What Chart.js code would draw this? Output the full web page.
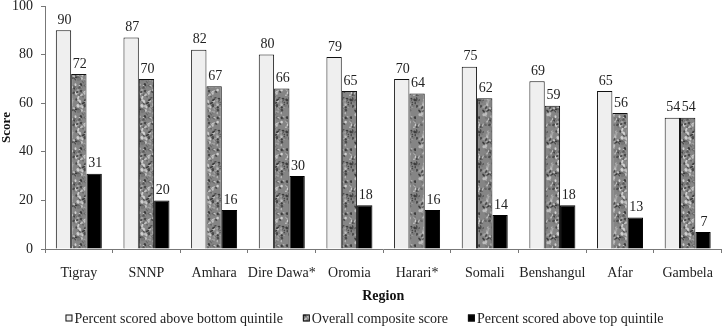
<!DOCTYPE html>
<html>
<head>
<meta charset="utf-8">
<script src="https://cdn.jsdelivr.net/npm/chart.js@4"></script>
<style>
  html, body { margin: 0; padding: 0; background: #fff; }
  #wrap { width: 725px; height: 327px; position: relative; }
</style>
</head>
<body>
<div id="wrap"><canvas id="chart_regionScores"></canvas></div>
<script>
var regions = ['Tigray', 'SNNP', 'Amhara', 'Dire Dawa*', 'Oromia', 'Harari*', 'Somali', 'Benshangul', 'Afar', 'Gambela'];
var aboveBottom = [90, 87, 82, 80, 79, 70, 75, 69, 65, 54];
var composite = [72, 70, 67, 66, 65, 64, 62, 59, 56, 54];
var aboveTop = [31, 20, 16, 30, 18, 16, 14, 18, 13, 7];
var yTicks = [0, 20, 40, 60, 80, 100];

var serif = '"Liberation Serif", "Times New Roman", serif';

// stone-like texture for the middle series (deterministic)
function makeTexture() {
    var c = document.createElement('canvas');
    c.width = 32; c.height = 32;
    var g = c.getContext('2d');
    g.fillStyle = '#858585';
    g.fillRect(0, 0, 32, 32);
    var s = 12345;
    function next() { s = (s * 1103515245 + 12345) & 0x7fffffff; return s / 0x7fffffff; }
    var shades = ['#4a4a4a', '#bdbdbd', '#666', '#a0a0a0', '#3c3c3c', '#cfcfcf', '#777'];
    for (var i = 0; i < 120; i++) {
        g.fillStyle = shades[i % shades.length];
        g.beginPath();
        g.ellipse(next() * 32, next() * 32, 0.7 + next() * 1.5, 0.5 + next() * 1.1, next() * 3, 0, Math.PI * 2);
        g.fill();
    }
    return g.createPattern(c, 'repeat');
}

var valueLabels = {
    id: 'valueLabels',
    afterDatasetsDraw: function(chart) {
        var ctx = chart.ctx;
        ctx.save();
        ctx.font = '14px ' + serif;
        ctx.fillStyle = '#222';
        ctx.textAlign = 'center';
        ctx.textBaseline = 'bottom';
        chart.data.datasets.forEach(function(ds, i) {
            chart.getDatasetMeta(i).data.forEach(function(bar, j) {
                ctx.fillText(ds.data[j], bar.x + 1, bar.y - 3);
            });
        });
        ctx.restore();
    }
};

// compact legend: small square, 2px gap, wide spacing between items
var bottomLegend = {
    id: 'bottomLegend',
    afterDraw: function(chart) {
        var ctx = chart.ctx;
        var box = 7, gap = 2, spacing = 20, y = 319;
        ctx.save();
        ctx.font = '14px ' + serif;
        var widths = chart.data.datasets.map(function(ds) {
            return box + gap + ctx.measureText(ds.label).width;
        });
        var total = widths.reduce(function(a, b) { return a + b; }, 0) + spacing * (widths.length - 1);
        var x = (chart.width - total) / 2 + 2;
        chart.data.datasets.forEach(function(ds, i) {
            ctx.fillStyle = ds.backgroundColor;
            ctx.fillRect(x, y - box / 2 - 1, box, box);
            ctx.strokeStyle = '#111';
            ctx.lineWidth = 1;
            ctx.strokeRect(x + 0.5, y - box / 2 - 0.5, box - 1, box - 1);
            ctx.fillStyle = '#222';
            ctx.textAlign = 'left';
            ctx.textBaseline = 'middle';
            ctx.fillText(ds.label, x + box + gap, y);
            x += widths[i] + spacing;
        });
        ctx.restore();
    }
};

var chart_regionScores = new Chart(document.getElementById('chart_regionScores'), {
    type: 'bar',
    data: {
        labels: regions,
        datasets: [
            {
                label: 'Percent scored above bottom quintile',
                data: aboveBottom,
                backgroundColor: '#efefef',
                borderColor: '#111',
                borderWidth: 1
            },
            {
                label: 'Overall composite score',
                data: composite,
                backgroundColor: makeTexture(),
                borderColor: '#111',
                borderWidth: 1
            },
            {
                label: 'Percent scored above top quintile',
                data: aboveTop,
                backgroundColor: '#000',
                borderColor: '#000',
                borderWidth: 1
            }
        ]
    },
    options: {
        animation: false,
        responsive: true,
        maintainAspectRatio: false,
        layout: { padding: { top: 0, right: 1, left: 0, bottom: 20 } },
        datasets: {
            bar: { barPercentage: 1, categoryPercentage: 0.68 }
        },
        plugins: {
            legend: { display: false },
            tooltip: { enabled: false }
        },
        scales: {
            x: {
                title: {
                    display: true,
                    text: 'Region',
                    color: '#111',
                    font: { family: serif, size: 14, weight: 'bold' },
                    padding: { top: 0, bottom: 2 }
                },
                grid: {
                    drawOnChartArea: false,
                    drawTicks: true,
                    tickLength: 4,
                    color: '#777'
                },
                border: { color: '#777' },
                afterFit: function(axis) {
                    axis.height = 58;
                },
                ticks: {
                    color: '#222',
                    font: { family: serif, size: 14 },
                    maxRotation: 0,
                    autoSkip: false,
                    padding: 12
                }
            },
            y: {
                min: 0,
                max: 100,
                title: {
                    display: true,
                    text: 'Score',
                    color: '#111',
                    font: { family: serif, size: 13, weight: 'bold', lineHeight: 1 },
                    padding: { top: 0, bottom: 1 }
                },
                grid: {
                    drawOnChartArea: false,
                    drawTicks: true,
                    tickLength: 4,
                    color: '#777'
                },
                border: { color: '#777' },
                afterBuildTicks: function(axis) {
                    axis.ticks = yTicks.map(function(v) { return { value: v }; });
                },
                afterFit: function(axis) {
                    axis.width = 45;
                    axis.paddingTop = 6;
                    axis.paddingBottom = 6;
                },
                ticks: {
                    color: '#222',
                    font: { family: serif, size: 14 },
                    padding: 8
                }
            }
        }
    },
    plugins: [valueLabels, bottomLegend, {
        id: 'customPlugin',
        beforeDraw: function(chart) {
            var ctx = chart.canvas.getContext('2d');
            ctx.save();
            ctx.globalCompositeOperation = 'destination-over';
            ctx.fillStyle = 'white';
            ctx.fillRect(0, 0, chart.canvas.width, chart.canvas.height);
            ctx.restore();
        }
    }]
});
</script>
</body>
</html>
